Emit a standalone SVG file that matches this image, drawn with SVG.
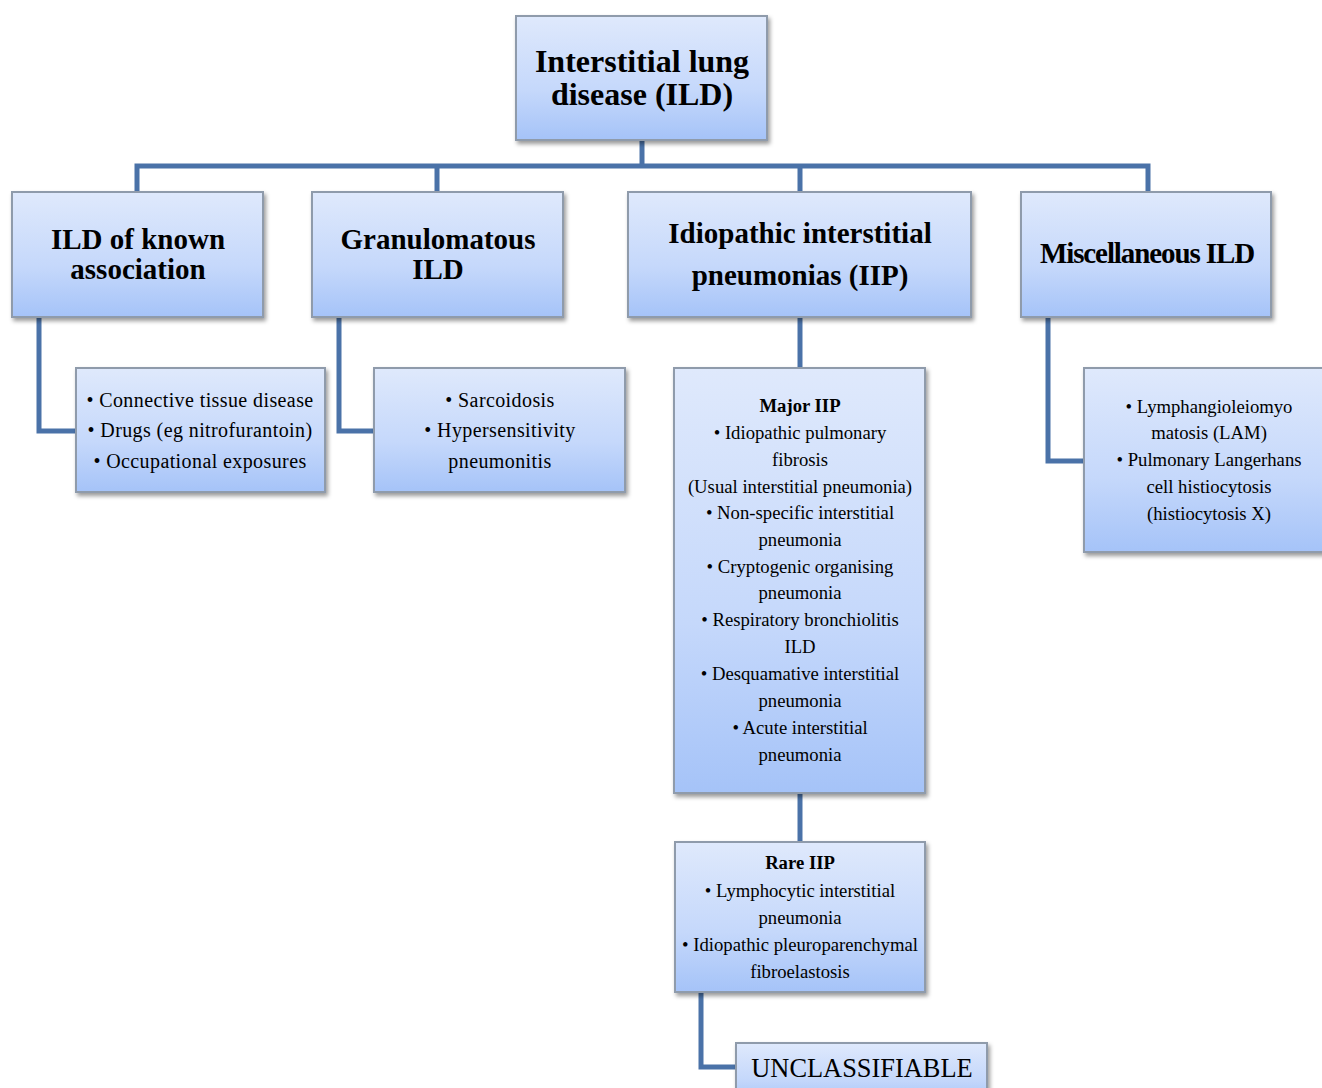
<svg xmlns="http://www.w3.org/2000/svg" width="1322" height="1088" viewBox="0 0 1322 1088">
<defs>
<linearGradient id="g" x1="0" y1="0" x2="0" y2="1">
<stop offset="0" stop-color="#dfe9fc"/>
<stop offset="0.6" stop-color="#c5d8fb"/>
<stop offset="1" stop-color="#a5c3f8"/>
</linearGradient>
<filter id="sh" x="-10%" y="-10%" width="125%" height="130%">
<feDropShadow dx="2" dy="3" stdDeviation="2" flood-color="#000" flood-opacity="0.4"/>
</filter>
</defs>
<style>
.box{fill:url(#g);stroke:#8f9bab;stroke-width:2;filter:url(#sh)}
.con{fill:none;stroke:#4a72a8;stroke-width:5;stroke-linejoin:miter}
text{font-family:"Liberation Serif","Times New Roman",serif;fill:#000;text-anchor:middle}
.t1{font-size:32px;font-weight:bold}
.t2{font-size:29px;font-weight:bold}
.l{font-size:20px;letter-spacing:0.4px}
.s{font-size:18.7px}
.sb{font-size:18.7px;font-weight:bold}
.u{font-size:26.4px}
</style>
<rect width="1322" height="1088" fill="#fff"/>
<g id="connectors">
<path class="con" d="M642 140V166M137 192V166H1148V192M437 166V192M800 166V192"/>
<path class="con" d="M39 317V431H76"/>
<path class="con" d="M339 317V431H374"/>
<path class="con" d="M800 317V368"/>
<path class="con" d="M1048 317V461H1084"/>
<path class="con" d="M800 793V842"/>
<path class="con" d="M701 992V1067H736"/>
</g>
<g id="root">
<rect class="box" x="516" y="16" width="251" height="124"/>
<text class="t1" x="642" y="72">Interstitial lung</text>
<text class="t1" x="642" y="105">disease (ILD)</text>
</g>
<g id="known">
<rect class="box" x="12" y="192" width="251" height="125"/>
<text class="t2" x="138" y="249">ILD of known</text>
<text class="t2" x="138" y="279">association</text>
</g>
<g id="granulomatous">
<rect class="box" x="312" y="192" width="251" height="125"/>
<text class="t2" x="438" y="249">Granulomatous</text>
<text class="t2" x="438" y="279">ILD</text>
</g>
<g id="iip">
<rect class="box" x="628" y="192" width="343" height="125"/>
<text class="t2" x="800" y="243">Idiopathic interstitial</text>
<text class="t2" x="800" y="285">pneumonias (IIP)</text>
</g>
<g id="misc">
<rect class="box" x="1021" y="192" width="250" height="125"/>
<text class="t2" x="1147" y="263" letter-spacing="-1.1">Miscellaneous ILD</text>
</g>
<g id="known-list">
<rect class="box" x="76" y="368" width="249" height="124"/>
<text class="l" x="200" y="407">• Connective tissue disease</text>
<text class="l" x="200" y="437">• Drugs (eg nitrofurantoin)</text>
<text class="l" x="200" y="468">• Occupational exposures</text>
</g>
<g id="gran-list">
<rect class="box" x="374" y="368" width="251" height="124"/>
<text class="l" x="500" y="407">• Sarcoidosis</text>
<text class="l" x="500" y="437">• Hypersensitivity</text>
<text class="l" x="500" y="468">pneumonitis</text>
</g>
<g id="major">
<rect class="box" x="674" y="368" width="251" height="425"/>
<text class="sb" x="800" y="412">Major IIP</text>
<text class="s" x="800" y="439">• Idiopathic pulmonary</text>
<text class="s" x="800" y="466">fibrosis</text>
<text class="s" x="800" y="493">(Usual interstitial pneumonia)</text>
<text class="s" x="800" y="519">• Non-specific interstitial</text>
<text class="s" x="800" y="546">pneumonia</text>
<text class="s" x="800" y="573">• Cryptogenic organising</text>
<text class="s" x="800" y="599">pneumonia</text>
<text class="s" x="800" y="626">• Respiratory bronchiolitis</text>
<text class="s" x="800" y="653">ILD</text>
<text class="s" x="800" y="680">• Desquamative interstitial</text>
<text class="s" x="800" y="707">pneumonia</text>
<text class="s" x="800" y="734">• Acute interstitial</text>
<text class="s" x="800" y="761">pneumonia</text>
</g>
<g id="misc-list">
<rect class="box" x="1084" y="368" width="252" height="184"/>
<text class="s" x="1209" y="413">• Lymphangioleiomyo</text>
<text class="s" x="1209" y="439">matosis (LAM)</text>
<text class="s" x="1209" y="466">• Pulmonary Langerhans</text>
<text class="s" x="1209" y="493">cell histiocytosis</text>
<text class="s" x="1209" y="520">(histiocytosis X)</text>
</g>
<g id="rare">
<rect class="box" x="675" y="842" width="250" height="150"/>
<text class="sb" x="800" y="869">Rare IIP</text>
<text class="s" x="800" y="897">• Lymphocytic interstitial</text>
<text class="s" x="800" y="924">pneumonia</text>
<text class="s" x="800" y="951">• Idiopathic pleuroparenchymal</text>
<text class="s" x="800" y="978">fibroelastosis</text>
</g>
<g id="unclassifiable">
<rect class="box" x="736" y="1043" width="251" height="60"/>
<text class="u" x="862" y="1077">UNCLASSIFIABLE</text>
</g>
</svg>
